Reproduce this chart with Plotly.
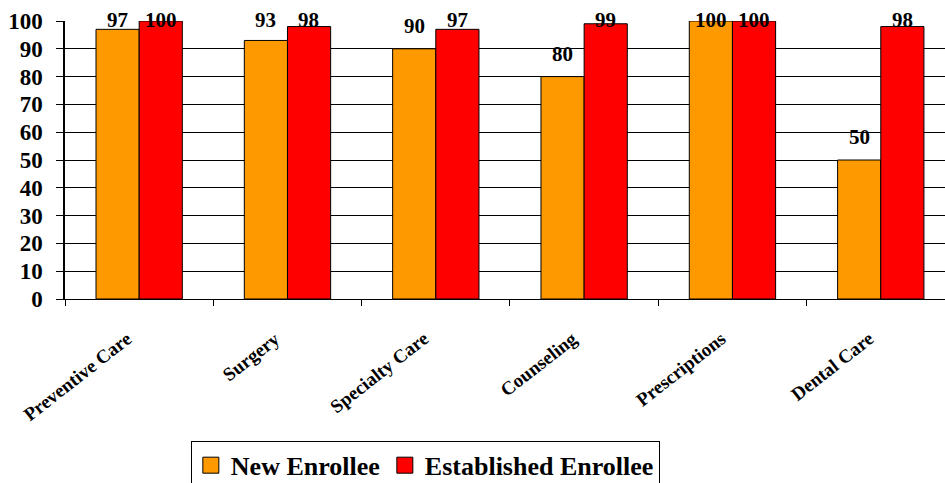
import plotly.graph_objects as go

categories = ["Preventive Care", "Surgery", "Specialty Care", "Counseling", "Prescriptions", "Dental Care"]
new_enrollee = [97, 93, 90, 80, 100, 50]
established_enrollee = [100, 98, 97, 99, 100, 98]
y_ticks = list(range(0, 101, 10))

SERIF = "Liberation Serif"
ORANGE = "#FF9900"
RED = "#FF0000"
LABEL_CEIL = 92.0  # value labels stop moving up near the top of the plot

fig = go.Figure()
series_list = (("New Enrollee", new_enrollee, ORANGE), ("Established Enrollee", established_enrollee, RED))
for name, vals, color in series_list:
    fig.add_trace(go.Bar(name=name, x=categories, y=vals, showlegend=False, legendgroup=name,
                         marker=dict(color=color, line=dict(color="#000000", width=1))))
# larger square swatches for the legend
for name, vals, color in series_list:
    fig.add_trace(go.Scatter(name=name, x=[None], y=[None], mode="markers", legendgroup=name,
                             marker=dict(symbol="square", size=16, color=color,
                                         line=dict(color="#000000", width=1))))

# value labels above each bar
bar_px = 43
for (name, vals, color), shift in zip(series_list, (-bar_px / 2, bar_px / 2)):
    for cat, v in zip(categories, vals):
        fig.add_annotation(x=cat, y=min(v, LABEL_CEIL), xref="x", yref="y",
                           text=str(v), showarrow=False, xshift=shift, yshift=9,
                           yanchor="bottom",
                           font=dict(family=SERIF, size=21, color="#000000", weight="bold"))

# slanted category labels, right end tucked just left of each category centre
for cat in categories:
    fig.add_annotation(x=cat, y=0, xref="x", yref="y", text=cat, showarrow=False,
                       textangle=-38, xanchor="right", yanchor="top", xshift=-1, yshift=-26,
                       font=dict(family=SERIF, size=19, color="#000000", weight="bold"))

fig.update_layout(
    width=945, height=483,
    margin=dict(l=65, r=0, t=21, b=184, autoexpand=False),
    paper_bgcolor="white", plot_bgcolor="white",
    barmode="group", bargap=0.418, bargroupgap=0,
    showlegend=True,
    legend=dict(orientation="h", x=0.143, y=-0.51, xanchor="left", yanchor="top",
                bordercolor="#000000", borderwidth=1, bgcolor="white",
                font=dict(family=SERIF, size=26, color="#000000", weight="bold"),
                itemwidth=30, tracegroupgap=0),
    xaxis=dict(range=[-0.5, 5.433], type="category", showgrid=False,
               showline=True, linecolor="#000000", linewidth=1,
               ticks="outside", ticklen=6, tickcolor="#000000", tickson="boundaries",
               showticklabels=False),
    yaxis=dict(range=[0, 100], tickvals=y_ticks, showgrid=True, gridcolor="#000000", gridwidth=1,
               showline=True, linecolor="#000000", linewidth=1.5,
               ticks="outside", ticklen=7, tickcolor="#000000", ticklabelstandoff=9,
               zeroline=False,
               tickfont=dict(family=SERIF, size=23, color="#000000", weight="bold")),
)

fig.write_html("out.html")
